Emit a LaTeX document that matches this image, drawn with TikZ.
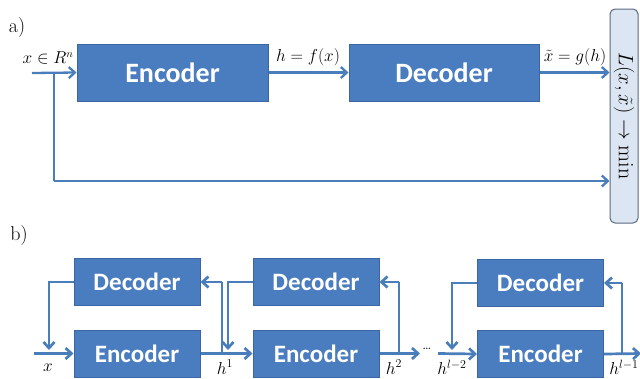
\documentclass[tikz,border=0pt]{standalone}
\usepackage{fontspec}
\newfontfamily\boxfont{Carlito}
\usetikzlibrary{arrows.meta}
\definecolor{boxblue}{HTML}{4A7DBF}
\definecolor{boxedge}{HTML}{3B66A3}
\definecolor{linkblue}{HTML}{4A7EBB}
\definecolor{lossfill}{HTML}{DCE6F2}
\definecolor{lossedge}{HTML}{5A6B80}
\begin{document}
\begin{tikzpicture}[x=1pt,y=-1pt,
  block/.style={draw=boxedge,line width=1pt,fill=boxblue,text=white,
    font=\boxfont\bfseries\fontsize{28}{30}\selectfont,inner sep=0pt},
  smallblock/.style={block,minimum width=126pt,minimum height=47pt,
    font=\boxfont\bfseries\fontsize{25}{28}\selectfont},
  link/.style={draw=linkblue,line width=2.3pt,-{Straight Barb[length=6pt,width=11pt]}},
  plain/.style={draw=linkblue,line width=2.3pt},
  linkb/.style={link,line width=2.7pt},
  plainb/.style={plain,line width=2.7pt},
  lbl/.style={inner sep=0pt,font=\fontsize{16}{18}\selectfont},
  lblb/.style={inner sep=0pt,font=\fontsize{18}{20}\selectfont},
  part/.style={inner sep=0pt,font=\fontsize{20}{24}\selectfont}]
\useasboundingbox (0,0) rectangle (640,378);

% ---- part a: single autoencoder ----
\node[part] (pa) at (17,28) {a)};
\node[block,minimum width=191pt,minimum height=57pt] (enc) at (172.5,72.5) {Encoder};
\node[block,minimum width=190pt,minimum height=57pt] (dec) at (444,72.5) {Decoder};
\node[draw=lossedge,line width=1pt,fill=lossfill,rounded corners=5pt,rotate=-90,
      minimum width=214pt,minimum height=28pt,inner sep=0pt,
      font=\fontsize{22}{24}\selectfont] (loss) at (624,116) {$L(x,\tilde{x})\rightarrow\min$};

\coordinate (ina) at (32,73);
\coordinate (split) at (54,73);
\coordinate (low) at (54,181);
\draw[link] (ina) -- (enc.west);
\draw[plain] (split) -- (low);
\draw[link] (low) -- (low -| loss.south);
\draw[link] (enc.east) -- (dec.west);
\draw[link] (dec.east) -- (dec.east -| loss.south);

\node[lbl] (lx) at (48,58) {$x\in R^{n}$};
\node[lbl] (lh) at (308,57) {$h=f(x)$};
\node[lbl] (lxt) at (575,57) {$\tilde{x}=g(h)$};

% ---- part b: stacked autoencoders ----
\node[part] (pb) at (19,236) {b)};
\node[smallblock] (d1) at (137,282) {Decoder};
\node[smallblock] (e1) at (137,353.5) {Encoder};
\node[smallblock] (d2) at (316,282) {Decoder};
\node[smallblock] (e2) at (316,353.5) {Encoder};
\node[smallblock] (d3) at (540.5,283) {Decoder};
\node[smallblock] (e3) at (540.5,354) {Encoder};

% input and first feedback
\coordinate (inb) at (34,353.5);
\coordinate (f1) at (49,350);
\draw[linkb] (inb) -- (e1.west);
\draw[linkb] (d1.west) -| (f1);

% between stage 1 and 2
\coordinate (u1) at (222,353.5);
\coordinate (f2) at (228,350);
\draw[linkb] (e1.east) -- (e2.west);
\draw[plainb] (u1) -- (u1 |- d1.east);
\draw[linkb] (u1 |- d1.east) -- (d1.east);
\draw[linkb] (d2.west) -| (f2);

% after stage 2
\coordinate (o2) at (420,353.5);
\coordinate (u2) at (399,353.5);
\draw[linkb] (e2.east) -- (o2);
\draw[plainb] (u2) -- (u2 |- d2.east);
\draw[linkb] (u2 |- d2.east) -- (d2.east);
\node[inner sep=0pt,font=\fontsize{14}{16}\selectfont] (dots) at (427,349) {\dots};

% last stage
\coordinate (i3) at (438,353.5);
\coordinate (f3) at (452,350);
\coordinate (o3) at (641,353.5);
\coordinate (u3) at (622,353.5);
\draw[linkb] (i3) -- (e3.west);
\draw[linkb] (d3.west) -| (f3);
\draw[linkb] (e3.east) -- (o3);
\draw[plainb] (u3) -- (u3 |- d3.east);
\draw[linkb] (u3 |- d3.east) -- (d3.east);

\node[lblb] (hx) at (48,368) {$x$};
\node[lblb] (h1) at (225,367) {$h^{1}$};
\node[lblb] (h2) at (394,367) {$h^{2}$};
\node[lblb] (h3) at (452,367) {$h^{l-2}$};
\node[lblb] (h4) at (624,367) {$h^{l-1}$};
\end{tikzpicture}
\end{document}
